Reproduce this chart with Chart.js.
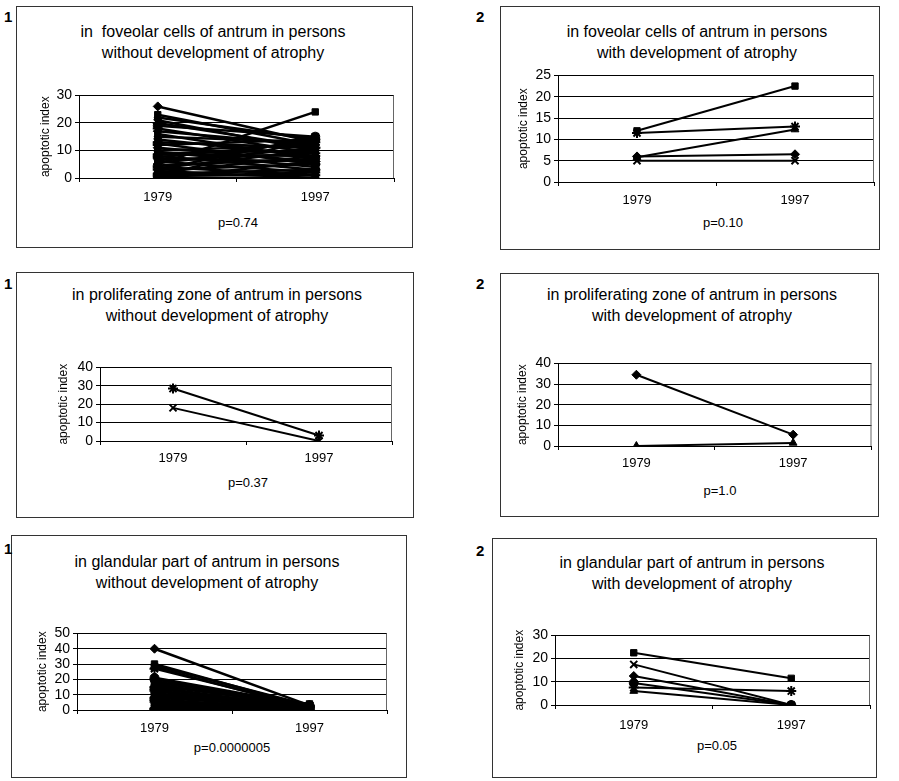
<!DOCTYPE html>
<html>
<head>
<meta charset="utf-8">
<script src="https://cdn.jsdelivr.net/npm/chart.js@4"></script>
<style>
  html, body { margin:0; padding:0; background:#fff; }
  body { width:899px; height:781px; position:relative; overflow:hidden; font-family:"Liberation Sans", Arial, sans-serif; color:#000; }
  .box { position:absolute; border:1px solid #333; box-sizing:border-box; }
  .num { position:absolute; font-size:15px; font-weight:bold; line-height:15px; }
  .ttl { position:absolute; font-size:16px; line-height:21px; text-align:center; white-space:pre; transform:translateX(-50%); }
  .pv { position:absolute; font-size:13px; line-height:15px; white-space:pre; transform:translate(-50%,-50%); }
  canvas { position:absolute; }
</style>
</head>
<body>
<script>
// ---------- data ----------
const categories = ['1979', '1997'];

// foveolar cells, without atrophy (each index = one person)
const foveolarWithout1979 = [26, 23, 22, 21, 20, 19, 18, 17, 16, 15, 14, 13, 12.5, 12, 11, 10, 9.5, 9, 8.5, 8, 7.5, 7, 6.5, 6, 5.5, 3, 4.5, 4, 3.5, 5, 2.5, 2, 1.5, 1, 0.5, 0, 0, 1, 3];
const foveolarWithout1997 = [13, 12, 14, 10, 11, 15, 9, 12, 7, 13, 8, 11, 5, 14, 6, 12, 4, 10, 8, 3, 13, 6, 9, 2, 11, 5, 7, 1, 10, 24, 0, 8, 3, 14, 2, 6, 0, 1, 15];

// foveolar cells, with atrophy
const foveolarWith1979 = [6, 12, 5.8, 5, 11.5];
const foveolarWith1997 = [6.5, 22.5, 12.3, 5, 13];

// proliferating zone, without atrophy
const prolifWithout1979 = [28.5, 18];
const prolifWithout1997 = [3, 0];

// proliferating zone, with atrophy
const prolifWith1979 = [34.5, 0];
const prolifWith1997 = [5.5, 1.5];

// glandular part, without atrophy
const glandWithout1979 = [40, 30, 29, 28, 27, 21, 20, 19, 18, 17, 16, 15, 14, 13, 12, 11, 10, 9, 8, 7, 6, 5, 4, 3, 2, 1, 0, 0.5];
const glandWithout1997 = [3, 2, 3, 1, 2, 3, 2, 1, 4, 2, 3, 1, 2, 0, 3, 2, 1, 3, 2, 0, 2, 1, 3, 2, 1, 0, 2, 3];

// glandular part, with atrophy
const glandWith1979 = [12.5, 22.5, 6, 17.5, 7.5, 9.5];
const glandWith1997 = [0, 11.5, 0, 0, 6, 0];

const pValues = ['p=0.74', 'p=0.10', 'p=0.37', 'p=1.0', 'p=0.0000005', 'p=0.05'];
const titles = [
  'in  foveolar cells of antrum in persons\nwithout development of atrophy',
  'in foveolar cells of antrum in persons\nwith development of atrophy',
  'in proliferating zone of antrum in persons\nwithout development of atrophy',
  'in proliferating zone of antrum in persons\nwith development of atrophy',
  'in glandular part of antrum in persons\nwithout development of atrophy',
  'in glandular part of antrum in persons\nwith development of atrophy'
];
const panelNumbers = ['1', '2', '1', '2', '1', '2'];

// ---------- layout / style ----------
const cycleStyles = ['rectRot', 'rect', 'triangle', 'crossRot', 'star', 'circle', 'cross'];
const panels = [
  { a: foveolarWithout1979, b: foveolarWithout1997, yMax: 30, step: 10, plot: [79, 94, 397, 178], titleX: 45, xPad: 8, lw: 2.5,
    box: [16, 6, 413, 248], num: [4, 9], ttl: [213, 21], pv: [238, 222] },
  { a: foveolarWith1979, b: foveolarWith1997, yMax: 25, step: 5, plot: [558, 74, 877, 182], titleX: 523, xPad: 7, lw: 2,
    box: [500, 6, 880, 250], num: [476, 9], ttl: [697, 21], pv: [723, 222] },
  { a: prolifWithout1979, b: prolifWithout1997, yMax: 40, step: 10, plot: [100, 366, 395, 441], titleX: 63, xPad: 6, lw: 2,
    box: [16, 272, 414, 518], num: [4, 276], ttl: [217, 284], pv: [248, 482], styles: ['star', 'crossRot'] },
  { a: prolifWith1979, b: prolifWith1997, yMax: 40, step: 10, plot: [558, 362, 873, 446], titleX: 522, xPad: 6, lw: 2,
    box: [500, 273, 879, 517], num: [476, 276], ttl: [692, 284], pv: [720, 490], styles: ['rectRot', 'triangle'] },
  { a: glandWithout1979, b: glandWithout1997, yMax: 50, step: 10, plot: [77, 632, 390, 710], titleX: 42, xPad: 7, lw: 2.5,
    box: [11, 535, 407, 778], num: [4, 541], ttl: [207, 551], pv: [232, 747] },
  { a: glandWith1979, b: glandWith1997, yMax: 30, step: 10, plot: [555, 634, 873, 705], titleX: 519, xPad: 9, lw: 2,
    box: [492, 538, 877, 778], num: [476, 543], ttl: [692, 552], pv: [717, 745] }
];

function addDiv(cls, text, css) {
  const d = document.createElement('div');
  d.className = cls; d.textContent = text;
  Object.assign(d.style, css);
  document.body.appendChild(d);
  return d;
}

const framePlugin = {
  id: 'frame',
  afterDraw(chart) {
    const { ctx, chartArea: c } = chart;
    ctx.save();
    ctx.strokeStyle = '#666';
    ctx.lineWidth = 1;
    ctx.beginPath();
    ctx.moveTo(c.right - 0.5, c.top);
    ctx.lineTo(c.right - 0.5, c.bottom);
    ctx.stroke();
    ctx.restore();
  }
};

const FONT = '"Liberation Sans", Arial';

panels.forEach((p, idx) => {
  const [bl, bt, br, bb] = p.box;
  addDiv('box', '', { left: bl + 'px', top: bt + 'px', width: (br - bl) + 'px', height: (bb - bt) + 'px' });
  addDiv('num', panelNumbers[idx], { left: p.num[0] + 'px', top: p.num[1] + 'px' });
  addDiv('ttl', titles[idx], { left: p.ttl[0] + 'px', top: p.ttl[1] + 'px' });
  addDiv('pv', pValues[idx], { left: p.pv[0] + 'px', top: p.pv[1] + 'px' });

  const [L, T, R, B] = p.plot;
  const padTop = 10, padRight = 4, xH = 32;
  const canvasLeft = Math.round(p.titleX - 7.2);
  const yW = L - canvasLeft;
  const cv = document.createElement('canvas');
  const w = (R - L) + yW + padRight, h = padTop + (B - T) + xH;
  cv.width = w; cv.height = h;
  cv.style.left = canvasLeft + 'px'; cv.style.top = (T - padTop) + 'px';
  cv.style.width = w + 'px'; cv.style.height = h + 'px';
  document.body.appendChild(cv);

  const datasets = p.a.map((v, i) => {
    const st = p.styles ? p.styles[i] : cycleStyles[i % cycleStyles.length];
    const isLine = (st === 'crossRot' || st === 'star' || st === 'cross');
    return {
      data: [v, p.b[i]],
      borderColor: '#000',
      backgroundColor: '#000',
      borderWidth: p.lw,
      pointStyle: st,
      pointRadius: isLine ? 5 : 4.5,
      pointBorderWidth: isLine ? 2 : 1,
      pointBackgroundColor: '#000',
      pointBorderColor: '#000',
      tension: 0
    };
  });

  new Chart(cv, {
    type: 'line',
    data: { labels: categories, datasets },
    plugins: [framePlugin],
    options: {
      responsive: false,
      animation: false,
      devicePixelRatio: 1,
      layout: { padding: { top: padTop, right: padRight, left: 0, bottom: 0 } },
      plugins: { legend: { display: false }, tooltip: { enabled: false }, title: { display: false } },
      scales: {
        x: {
          type: 'category',
          offset: true,
          grid: { offset: true, drawOnChartArea: false, drawTicks: true, tickLength: 4, color: '#000' },
          border: { color: '#000', width: 1 },
          ticks: { color: '#000', font: { family: FONT, size: 13 }, padding: p.xPad, maxRotation: 0 },
          afterFit: s => { s.height = xH; }
        },
        y: {
          min: 0, max: p.yMax,
          grid: { color: '#000', lineWidth: 1, tickLength: 4 },
          border: { color: '#000', width: 1 },
          ticks: { stepSize: p.step, autoSkip: false, color: '#000', font: { family: FONT, size: 14 }, padding: 3 },
          title: { display: true, text: 'apoptotic index', color: '#000', font: { family: FONT, size: 12 }, padding: 0 },
          afterFit: s => { s.width = yW; }
        }
      }
    }
  });
});
</script>
</body>
</html>
